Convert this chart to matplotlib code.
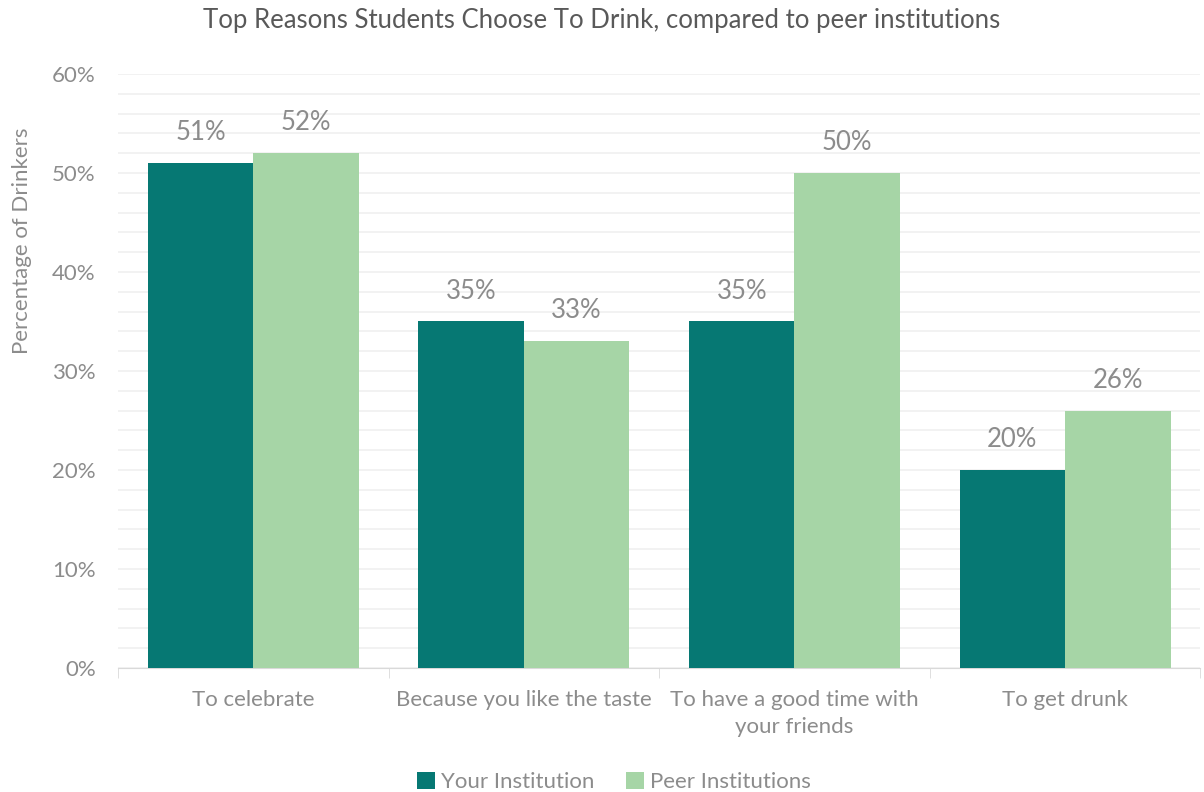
import matplotlib.pyplot as plt
import numpy as np
from matplotlib.ticker import MultipleLocator, FuncFormatter

categories = ['To celebrate', 'Because you like the taste',
              'To have a good time with\nyour friends', 'To get drunk']
your_inst = [51, 35, 35, 20]
peer_inst = [52, 33, 50, 26]
series_names = ['Your Institution', 'Peer Institutions']

dark = '#067873'
light = '#a6d5a6'
grey = '#8c8c8c'

plt.rcParams['font.family'] = ['Lato', 'DejaVu Sans']

fig = plt.figure(figsize=(12.04, 7.92), dpi=100)
ax = fig.add_axes([0.098, 0.1566, 0.899, 0.75])

x = np.arange(len(categories))
w = 0.39
b1 = ax.bar(x - w / 2, your_inst, w, color=dark, label=series_names[0], zorder=3)
b2 = ax.bar(x + w / 2, peer_inst, w, color=light, label=series_names[1], zorder=3)

for bars in (b1, b2):
    for rect in bars:
        h = rect.get_height()
        ax.text(rect.get_x() + rect.get_width() / 2, h + 1.8, f'{h:.0f}%',
                ha='center', va='bottom', fontsize=18.5, color=grey)

ax.set_xlim(-0.5, len(categories) - 0.5)
ax.set_ylim(0, 60)
ax.yaxis.set_major_locator(MultipleLocator(10))
ax.yaxis.set_minor_locator(MultipleLocator(2))
ax.yaxis.set_major_formatter(FuncFormatter(lambda v, p: f'{v:.0f}%'))
ax.grid(axis='y', which='both', color='#f0f0f0', linewidth=1.2, zorder=0)

ax.set_xticks(x)
ax.set_xticklabels(categories, fontsize=16, color=grey, linespacing=1.45)
ax.set_xticks(np.arange(len(categories) + 1) - 0.5, minor=True)
ax.tick_params(axis='x', which='major', length=0, pad=16)
ax.tick_params(axis='x', which='minor', length=7, color='#d9d9d9')
ax.tick_params(axis='y', which='both', length=0, labelsize=16, labelcolor=grey, pad=16)

for s in ['top', 'right', 'left']:
    ax.spines[s].set_visible(False)
ax.spines['bottom'].set_color('#d9d9d9')

ax.set_ylabel('Percentage of Drinkers', fontsize=16, color=grey)
ax.yaxis.set_label_coords(-0.079, 0.72)
fig.suptitle('Top Reasons Students Choose To Drink, compared to peer institutions',
             fontsize=18.5, color='#595959', y=0.99)

fig.legend(loc='lower center', ncol=2, frameon=False, fontsize=16,
           labelcolor=grey, handlelength=0.8, handleheight=0.8,
           handletextpad=0.3, columnspacing=1.4, bbox_to_anchor=(0.51, -0.025))

fig.savefig('out.png', dpi=100)
